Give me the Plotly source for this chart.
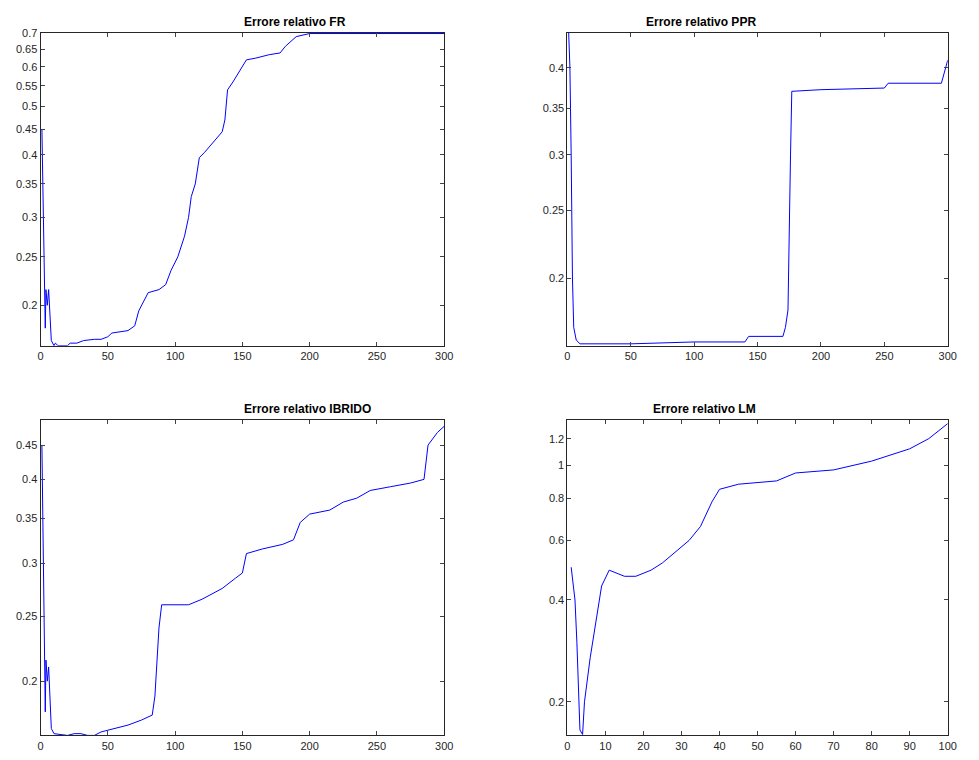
import plotly.graph_objects as go
import math

fr_x = [1,2,3,3.5,4,5,6,8,10,11,13,20,22,27,32,40,45,50,53,60,65,70,73,80,88,93,97,102,107,110,112,115,118,122,127,135,137,139,143,148,153,160,170,178,182,190,200,300]
fr_y = [0.45,0.3,0.21,0.18,0.215,0.2,0.215,0.17,0.166,0.168,0.166,0.166,0.168,0.168,0.170,0.171,0.171,0.173,0.176,0.177,0.178,0.182,0.195,0.212,0.215,0.22,0.235,0.25,0.275,0.30,0.33,0.35,0.395,0.405,0.42,0.445,0.47,0.54,0.56,0.59,0.62,0.625,0.635,0.64,0.66,0.69,0.70,0.70]

ppr_x = [1,2,3,4,5,7,10,50,100,140,143,170,172,174,176,177,200,250,253,295,300]
ppr_y = [0.45,0.4,0.3,0.2,0.17,0.163,0.161,0.161,0.162,0.162,0.165,0.165,0.17,0.18,0.3,0.37,0.372,0.374,0.38,0.38,0.41]

ib_x = [1,2,3,3.5,4,5,6,8,10,20,25,30,35,40,45,55,65,75,83,85,88,90,110,120,135,145,150,153,165,180,188,193,200,215,225,235,245,260,275,285,288,295,300]
ib_y = [0.45,0.3,0.21,0.18,0.215,0.2,0.21,0.17,0.167,0.166,0.167,0.167,0.166,0.166,0.168,0.17,0.172,0.175,0.178,0.19,0.24,0.26,0.26,0.265,0.275,0.285,0.29,0.31,0.315,0.32,0.325,0.345,0.355,0.36,0.37,0.375,0.385,0.39,0.395,0.4,0.45,0.47,0.48]

lm_x = [1,2,2.5,3,3.3,4,4.5,6,8,9,11,12,15,18,20,22,25,28,32,35,38,40,45,55,60,70,80,90,95,100]
lm_y = [0.5,0.4,0.3,0.2,0.165,0.16,0.2,0.27,0.38,0.44,0.49,0.485,0.47,0.47,0.48,0.49,0.515,0.55,0.6,0.66,0.78,0.85,0.88,0.9,0.95,0.97,1.03,1.12,1.2,1.33]

W, H, OFF = 963, 744, 8
def px(a): return ((a-2.6)/0.986 - OFF)/W
def py(y): return 1-((y-5.4)/0.987 - OFF)/H
def dx(a, b): return [px(a), min(px(b), 0.985)]
def dy(top, bot): return [max(py(bot), 0.0), py(top)]

titles = ["Errore relativo FR","Errore relativo PPR","Errore relativo IBRIDO","Errore relativo LM"]
panels = [
    (fr_x, fr_y, dx(40,443), dy(33,348), [0,300],[0.166,0.703],[0.2,0.25,0.3,0.35,0.4,0.45,0.5,0.55,0.6,0.65,0.7],list(range(0,301,50))),
    (ppr_x, ppr_y, dx(566,969), dy(33,348), [0,300],[0.16,0.449],[0.2,0.25,0.3,0.35,0.4],list(range(0,301,50))),
    (ib_x, ib_y, dx(40,443), dy(423,740), [0,300],[0.166,0.49],[0.2,0.25,0.3,0.35,0.4,0.45],list(range(0,301,50))),
    (lm_x, lm_y, dx(566,969), dy(423,740), [0,100],[0.159,1.36],[0.2,0.4,0.6,0.8,1,1.2],list(range(0,101,10))),
]
fig = go.Figure()
for i,(x,y,ddx,ddy,xr,yr,yt,xt) in enumerate(panels):
    n = "" if i==0 else str(i+1)
    fig.add_trace(go.Scatter(x=x,y=y,mode="lines",line=dict(color="#0000ff",width=1),xaxis="x"+n,yaxis="y"+n,showlegend=False))
    ax = dict(domain=ddx,range=xr,tickvals=xt,ticks="inside",ticklen=4,showline=True,mirror="ticks",linecolor="#262626",linewidth=1,showgrid=False,zeroline=False,tickfont=dict(size=11,color="#262626"),anchor="y"+n)
    ay = dict(domain=ddy,type="log",range=[math.log10(yr[0]),math.log10(yr[1])],tickvals=yt,ticktext=[f"{v:g}" for v in yt],ticks="inside",ticklen=4,showline=True,mirror="ticks",linecolor="#262626",linewidth=1,showgrid=False,zeroline=False,tickfont=dict(size=11,color="#262626"),anchor="x"+n)
    fig.layout["xaxis"+n] = ax
    fig.layout["yaxis"+n] = ay
    fig.add_annotation(text="<b>"+titles[i]+"</b>",x=(ddx[0]+ddx[1])/2,y=ddy[1],xref="paper",yref="paper",yanchor="bottom",showarrow=False,font=dict(size=12,color="black"),yshift=2)
fig.update_layout(width=W,height=H,margin=dict(l=0,r=0,t=0,b=0),plot_bgcolor="white",paper_bgcolor="white",font=dict(family="Arial, Liberation Sans"))
fig.write_html("out.html")
